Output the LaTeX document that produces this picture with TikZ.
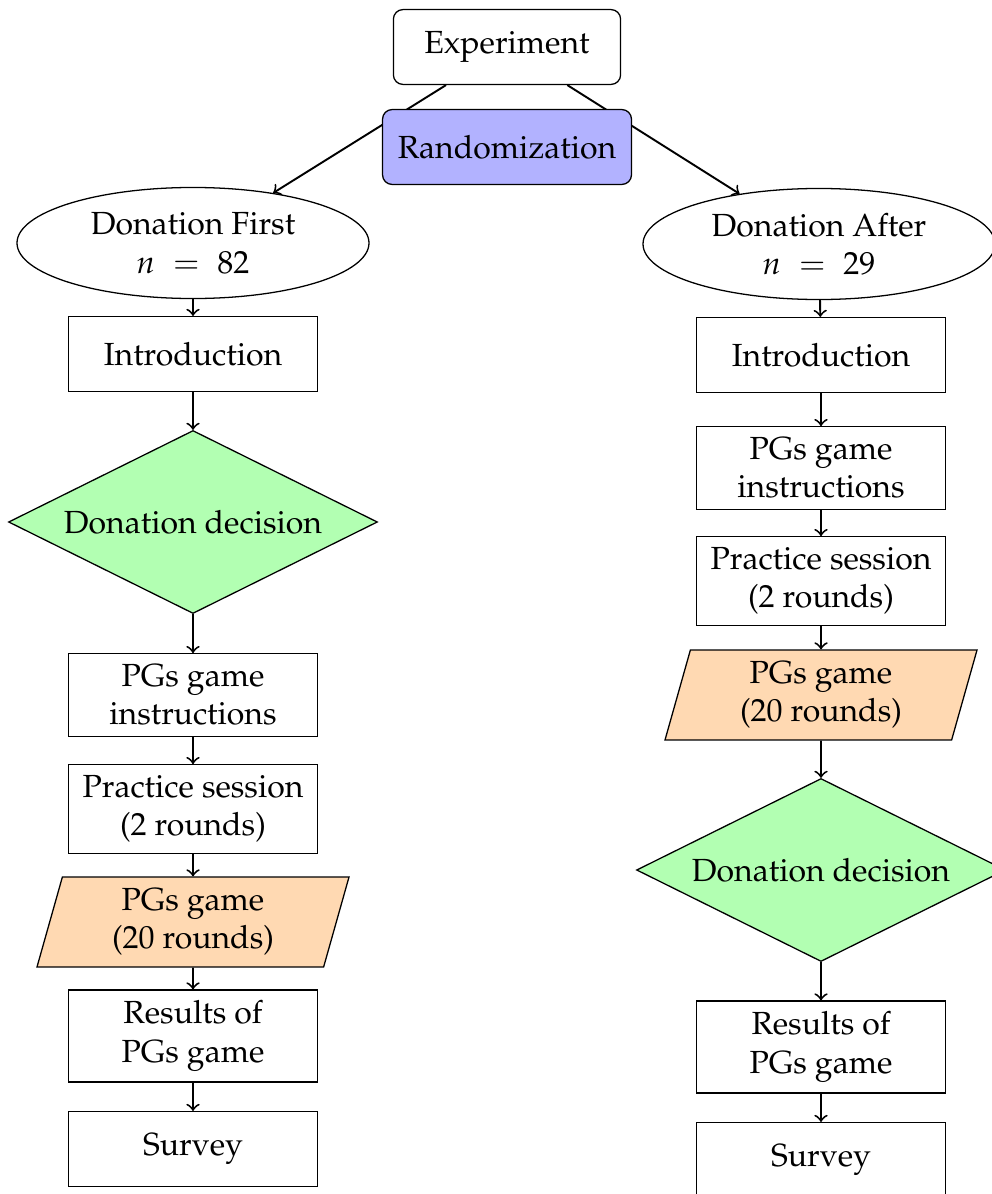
\documentclass[tikz,border=0pt]{standalone}
\usepackage[T1]{fontenc}
\usepackage{mathpazo}
\usetikzlibrary{shapes.geometric}

\begin{document}
\begin{tikzpicture}[x=0.3125pt, y=-0.3125pt, >=to,
  box/.style={draw, rectangle, minimum width=77.8pt, minimum height=23.4pt, align=center},
  group/.style={draw, ellipse, minimum width=110pt, minimum height=34.7pt, align=center, inner sep=1pt},
  decision/.style={draw, diamond, aspect=2, fill=green!30, minimum width=115.3pt, minimum height=57.2pt, inner sep=1pt},
  game/.style={draw, trapezium, trapezium left angle=71, trapezium right angle=109, trapezium stretches body,
    fill=orange!30, minimum width=97.5pt, minimum height=28.1pt, align=center, inner sep=1pt},
  flow/.style={->, semithick}]

  \useasboundingbox (0,0) rectangle (992,1194);

  % --- 1. 実験とグループ ---
  \node[box, rounded corners=3pt, minimum width=71pt] (exp) at (507,47) {Experiment};
  \node[group] (first) at (193,243) {Donation First\\ $n \;=\; 82$};
  \node[group] (after) at (819,244) {Donation After\\ $n \;=\; 29$};
  \draw[flow] (exp) -- (first);
  \draw[flow] (exp) -- (after);
  \node[box, rounded corners=3pt, fill=blue!30] (rand) at (507,147) {Randomization};

  % --- 2. Donation First ---
  \node[box] (fIntro) at (193,354) {Introduction};
  \node[decision] (fDec) at (193,522) {Donation decision};
  \node[box] (fInstr) at (193,695) {PGs game\\ instructions};
  \node[box] (fPract) at (193,809) {Practice session\\ (2 rounds)};
  \node[game] (fGame) at (193,922) {PGs game\\ (20 rounds)};
  \node[box] (fRes) at (193,1036) {Results of\\ PGs game};
  \node[box] (fSurv) at (193,1149) {Survey};

  % --- 3. Donation After ---
  \node[box] (aIntro) at (821,355) {Introduction};
  \node[box] (aInstr) at (821,468) {PGs game\\ instructions};
  \node[box] (aPract) at (821,581) {Practice session\\ (2 rounds)};
  \node[game] (aGame) at (821,695) {PGs game\\ (20 rounds)};
  \node[decision] (aDec) at (821,870) {Donation decision};
  \node[box] (aRes) at (821,1047) {Results of\\ PGs game};
  \node[box] (aSurv) at (821,1160) {Survey};

  % --- 4. 矢印 ---
  \foreach \a/\b in {first/fIntro, fIntro/fDec, fDec/fInstr, fInstr/fPract, fPract/fGame, fGame/fRes, fRes/fSurv,
                     after/aIntro, aIntro/aInstr, aInstr/aPract, aPract/aGame, aGame/aDec, aDec/aRes, aRes/aSurv}
    \draw[flow] (\a) -- (\b);

\end{tikzpicture}
\end{document}
